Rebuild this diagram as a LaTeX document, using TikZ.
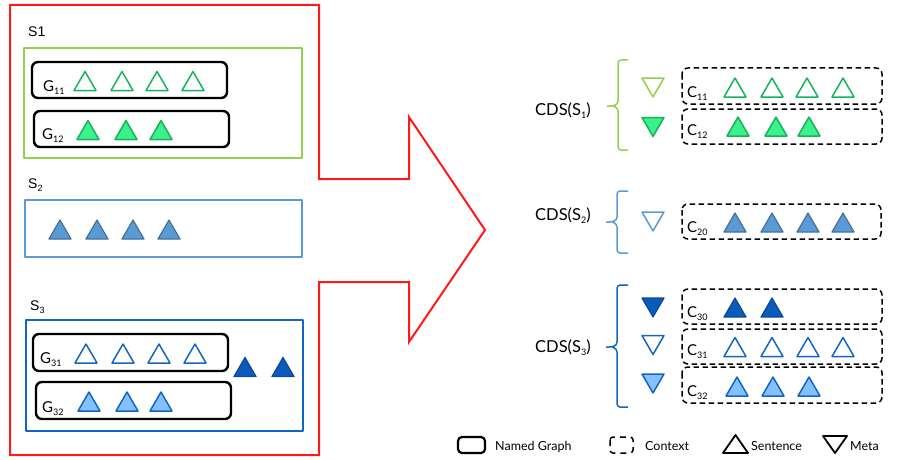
\documentclass[tikz,border=0pt]{standalone}
\usepackage{fontspec}
\setmainfont{Lato}
\newfontfamily\arialfont{Liberation Sans}
\definecolor{arrowred}{HTML}{FF1A1A}
\definecolor{lgreen}{HTML}{92D050}
\definecolor{sgreen}{HTML}{14B45A}
\definecolor{fgreen}{HTML}{3CF08C}
\definecolor{mblue}{HTML}{5B9BD5}
\definecolor{mblueline}{HTML}{41719C}
\definecolor{dblue}{HTML}{1266C2}
\definecolor{lblue}{HTML}{85C1FF}
\definecolor{nblue}{HTML}{0B5CB8}
\definecolor{nblueline}{HTML}{084A96}
\newcommand{\sub}[1]{\raisebox{-0.45ex}{\fontsize{9}{9}\selectfont #1}}
% sentence (up) and meta (down) triangles, centred at (#1,#2)
\newcommand{\sentri}[3]{\draw[#3] (#1-11,#2+9.5) -- (#1,#2-9.5) -- (#1+11,#2+9.5) -- cycle;}
\newcommand{\metatri}[3]{\draw[#3] (#1-11,#2-9.5) -- (#1+11,#2-9.5) -- (#1,#2+9.5) -- cycle;}
\begin{document}
\begin{tikzpicture}[x=1pt,y=-1pt,line join=round,
  graphbox/.style={draw=black,line width=2.4pt,rounded corners=6pt},
  ctxbox/.style={draw=black,line width=1.5pt,dash pattern=on 5.5pt off 3.5pt,rounded corners=6pt},
  lbl/.style={anchor=base west,inner sep=0pt,font=\fontsize{15}{18}\selectfont},
  cdslbl/.style={anchor=base west,inner sep=0pt,font=\fontsize{16.5}{19}\selectfont},
  slbl/.style={anchor=base west,inner sep=0pt,font=\arialfont\fontsize{14}{16}\selectfont},
  leg/.style={anchor=base west,inner sep=0pt,font=\fontsize{12.5}{15}\selectfont},
  gout/.style={draw=sgreen,line width=1.5pt},
  gfill/.style={draw=sgreen,fill=fgreen,line width=1.5pt},
  mfill/.style={draw=mblueline,fill=mblue,line width=1.2pt},
  bout/.style={draw=dblue,line width=1.5pt},
  bfill/.style={draw=dblue,fill=lblue,line width=1.5pt},
  nfill/.style={draw=nblueline,fill=nblue,line width=1.2pt},
  brace/.style={line width=1.5pt,rounded corners=3pt}]
\useasboundingbox (0,0) rectangle (907,460);
% input side and arrow
\draw[arrowred,line width=2pt,line join=miter] (10,5) -- (319,5) -- (319,179) -- (409,179) -- (409,117) -- (485,230)
  -- (409,342) -- (409,282) -- (319,282) -- (319,455) -- (10,455) -- cycle;
% S1
\node[slbl] (s1) at (28,37) {S1};
\draw[lgreen,line width=1.5pt] (24,48) rectangle (302,158);
\draw[graphbox] (32,62) rectangle (227,98);
\node[lbl] (g11) at (43,91) {G\sub{11}};
\foreach \x in {85,122,157,193} {\sentri{\x}{81}{gout}}
\draw[graphbox] (34,111) rectangle (229,147);
\node[lbl] (g12) at (42,139) {G\sub{12}};
\foreach \x in {88,126,161} {\sentri{\x}{130}{gfill}}
% S2
\node[slbl] (s2) at (28,188) {S\sub{2}};
\draw[mblue,line width=1.5pt] (25,200) rectangle (302,257);
\foreach \x in {60,97,133,169} {\sentri{\x}{229.5}{mfill}}
% S3
\node[slbl] (s3) at (30,310) {S\sub{3}};
\draw[dblue,line width=1.5pt] (26,320) rectangle (303,431);
\draw[graphbox] (33,334) rectangle (228,371);
\node[lbl] (g31) at (40,363) {G\sub{31}};
\foreach \x in {86,123,159,195} {\sentri{\x}{353.5}{bout}}
\draw[graphbox] (36,382) rectangle (231,419);
\node[lbl] (g32) at (42,412) {G\sub{32}};
\foreach \x in {89,127,161} {\sentri{\x}{401.5}{bfill}}
\foreach \x in {245,283} {\sentri{\x}{367}{nfill}}
% CDS(S1)
\node[cdslbl] (cds1) at (535,115) {CDS(S\sub{1})};
\draw[brace,lgreen] (628,60) -- (618,60) -- (618,104) -- (613,106) -- (607,106);
\draw[brace,lgreen] (613,106) -- (618,108) -- (618,150) -- (628,150);
\metatri{653}{87.5}{draw=lgreen,line width=1.5pt}
\metatri{653}{127}{gfill}
\draw[ctxbox] (682,68) rectangle (882,104);
\node[lbl] (c11) at (687,97) {C\sub{11}};
\foreach \x in {735,772,807,843} {\sentri{\x}{87.5}{gout}}
\draw[ctxbox] (682,109) rectangle (882,144);
\node[lbl] (c12) at (687,135) {C\sub{12}};
\foreach \x in {738,776,809} {\sentri{\x}{126.5}{gfill}}
% CDS(S2)
\node[cdslbl] (cds2) at (535,220) {CDS(S\sub{2})};
\draw[brace,mblue] (628,191) -- (617,191) -- (617,220) -- (612,222) -- (606,222);
\draw[brace,mblue] (612,222) -- (617,224) -- (617,253) -- (628,253);
\metatri{653}{221.5}{draw=mblue,line width=1.5pt}
\draw[ctxbox] (682,204) rectangle (881,239);
\node[lbl] (c20) at (687,232) {C\sub{20}};
\foreach \x in {735,772,808,843} {\sentri{\x}{222.5}{mfill}}
% CDS(S3)
\node[cdslbl] (cds3) at (535,352) {CDS(S\sub{3})};
\draw[brace,dblue] (628,285) -- (617,285) -- (617,345) -- (612,347) -- (606,347);
\draw[brace,dblue] (612,347) -- (617,349) -- (617,407) -- (628,407);
\metatri{653}{307.5}{nfill}
\metatri{653}{345}{bout}
\metatri{653}{383.5}{bfill}
\draw[ctxbox] (682,289) rectangle (882,324);
\node[lbl] (c30) at (687,317) {C\sub{30}};
\foreach \x in {735,772} {\sentri{\x}{307.5}{nfill}}
\draw[ctxbox] (682,329) rectangle (882,364);
\node[lbl] (c31) at (687,355) {C\sub{31}};
\foreach \x in {735,772,808,843} {\sentri{\x}{347}{bout}}
\draw[ctxbox] (682,367) rectangle (882,403);
\node[lbl] (c32) at (687,396) {C\sub{32}};
\foreach \x in {737,773,809} {\sentri{\x}{386.5}{bfill}}
% legend
\draw[graphbox,rounded corners=4pt,line width=2.2pt] (458,437) rectangle (485,453);
\node[leg] (lgraph) at (495,450) {Named Graph};
\draw[ctxbox,rounded corners=3pt,dash pattern=on 6pt off 5pt] (610,437) rectangle (633,453);
\node[leg] (lctx) at (645,450) {Context};
\draw[line width=1.8pt] (723,453) -- (735.5,435) -- (748,453) -- cycle;
\node[leg] (lsent) at (751,450) {Sentence};
\draw[line width=1.8pt] (823,436) -- (847,436) -- (835,453) -- cycle;
\node[leg] (lmeta) at (850,450) {Meta};
\end{tikzpicture}
\end{document}
